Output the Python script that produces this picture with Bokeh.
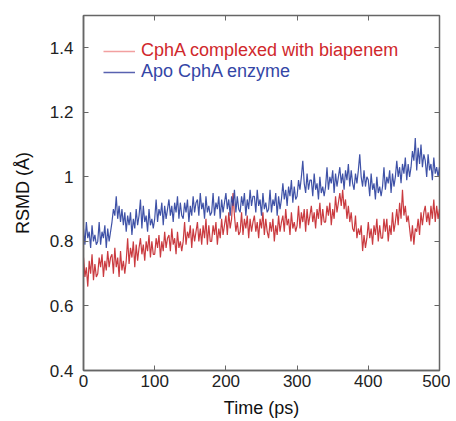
from bokeh.plotting import figure
from bokeh.models import Range1d, FixedTicker, LinearAxis, Legend, LegendItem
from bokeh.embed import file_html
from bokeh.resources import INLINE

t_step = 2
complex_rmsd = [
    0.75, 0.69, 0.72, 0.66, 0.74, 0.70, 0.76, 0.68, 0.73, 0.69,
    0.70, 0.75, 0.72, 0.76, 0.69, 0.74, 0.71, 0.77, 0.72, 0.75,
    0.76, 0.70, 0.78, 0.72, 0.75, 0.69, 0.77, 0.71, 0.74, 0.70,
    0.74, 0.81, 0.73, 0.78, 0.75, 0.80, 0.72, 0.79, 0.74, 0.78,
    0.81, 0.76, 0.79, 0.74, 0.80, 0.77, 0.82, 0.75, 0.80, 0.76,
    0.76, 0.81, 0.78, 0.82, 0.75, 0.80, 0.77, 0.83, 0.78, 0.81,
    0.82, 0.77, 0.84, 0.79, 0.81, 0.76, 0.83, 0.78, 0.80, 0.77,
    0.80, 0.86, 0.79, 0.83, 0.81, 0.85, 0.78, 0.84, 0.80, 0.83,
    0.86, 0.80, 0.84, 0.79, 0.85, 0.81, 0.87, 0.79, 0.85, 0.80,
    0.80, 0.85, 0.82, 0.86, 0.79, 0.84, 0.81, 0.87, 0.82, 0.85,
    0.88, 0.82, 0.89, 0.84, 0.87, 0.95, 0.88, 0.83, 0.86, 0.82,
    0.83, 0.89, 0.82, 0.87, 0.84, 0.88, 0.81, 0.87, 0.83, 0.86,
    0.88, 0.83, 0.86, 0.81, 0.87, 0.84, 0.89, 0.82, 0.87, 0.83,
    0.81, 0.86, 0.83, 0.87, 0.80, 0.85, 0.82, 0.88, 0.83, 0.86,
    0.88, 0.83, 0.90, 0.85, 0.87, 0.82, 0.89, 0.84, 0.86, 0.83,
    0.85, 0.91, 0.84, 0.89, 0.86, 0.90, 0.83, 0.90, 0.85, 0.88,
    0.91, 0.86, 0.89, 0.84, 0.90, 0.87, 0.92, 0.85, 0.90, 0.86,
    0.86, 0.91, 0.88, 0.92, 0.85, 0.90, 0.87, 0.94, 0.89, 0.92,
    0.95, 0.91, 0.96, 0.90, 0.93, 0.87, 0.91, 0.86, 0.89, 0.84,
    0.83, 0.88, 0.81, 0.84, 0.82, 0.85, 0.77, 0.82, 0.78, 0.81,
    0.86, 0.81, 0.84, 0.79, 0.85, 0.82, 0.87, 0.80, 0.85, 0.81,
    0.81, 0.87, 0.83, 0.87, 0.80, 0.85, 0.82, 0.89, 0.83, 0.86,
    0.90, 0.85, 0.92, 0.87, 0.96, 0.88, 0.91, 0.86, 0.88, 0.84,
    0.80, 0.85, 0.79, 0.84, 0.83, 0.87, 0.82, 0.89, 0.85, 0.89,
    0.91, 0.86, 0.89, 0.85, 0.91, 0.87, 0.93, 0.86, 0.91, 0.87,
    0.90,
]
apo_rmsd = [
    0.84, 0.79, 0.86, 0.81, 0.83, 0.78, 0.85, 0.80, 0.82, 0.79,
    0.80, 0.86, 0.79, 0.83, 0.81, 0.85, 0.78, 0.84, 0.80, 0.83,
    0.86, 0.90, 0.88, 0.94, 0.87, 0.91, 0.86, 0.90, 0.85, 0.89,
    0.83, 0.88, 0.85, 0.89, 0.82, 0.87, 0.84, 0.90, 0.85, 0.88,
    0.93, 0.84, 0.91, 0.86, 0.88, 0.83, 0.90, 0.85, 0.87, 0.84,
    0.87, 0.93, 0.86, 0.90, 0.88, 0.92, 0.85, 0.91, 0.87, 0.90,
    0.93, 0.88, 0.91, 0.86, 0.92, 0.89, 0.94, 0.87, 0.92, 0.88,
    0.87, 0.92, 0.89, 0.93, 0.86, 0.91, 0.88, 0.94, 0.89, 0.92,
    0.93, 0.88, 0.95, 0.90, 0.92, 0.87, 0.94, 0.89, 0.91, 0.88,
    0.89, 0.95, 0.88, 0.92, 0.90, 0.94, 0.87, 0.93, 0.89, 0.92,
    0.95, 0.90, 0.93, 0.88, 0.94, 0.91, 0.96, 0.89, 0.94, 0.90,
    0.89, 0.94, 0.91, 0.95, 0.88, 0.93, 0.90, 0.96, 0.91, 0.94,
    0.94, 0.89, 0.96, 0.91, 0.93, 0.88, 0.95, 0.90, 0.92, 0.89,
    0.90, 0.96, 0.89, 0.93, 0.91, 0.95, 0.88, 0.94, 0.90, 0.93,
    0.98, 0.93, 0.96, 0.91, 0.97, 0.94, 0.99, 0.92, 0.97, 0.93,
    0.94, 0.99, 0.96, 1.00, 1.05, 0.98, 0.95, 1.01, 0.96, 0.99,
    0.99, 0.94, 1.01, 0.96, 0.98, 0.93, 1.00, 0.95, 0.97, 0.94,
    0.97, 1.03, 0.96, 1.00, 0.98, 1.02, 0.95, 1.01, 0.97, 1.00,
    1.03, 0.98, 1.01, 0.96, 1.02, 0.99, 1.04, 0.97, 1.02, 0.98,
    0.96, 1.01, 0.98, 1.02, 1.07, 1.00, 0.97, 1.02, 0.97, 1.00,
    0.99, 0.94, 1.01, 0.96, 0.98, 0.93, 1.00, 0.95, 0.97, 0.94,
    0.97, 1.03, 0.96, 1.00, 0.98, 1.02, 0.95, 1.01, 0.97, 1.00,
    1.05, 1.00, 1.03, 0.98, 1.04, 1.01, 1.06, 0.99, 1.04, 1.00,
    1.03, 1.08, 1.05, 1.12, 1.02, 1.09, 1.04, 1.10, 1.03, 1.07,
    1.05, 1.00, 1.07, 1.02, 1.04, 0.99, 1.06, 1.01, 1.03, 1.00,
    1.03,
]
time_ps = [i * t_step for i in range(len(complex_rmsd))]
x_ticks = [0, 100, 200, 300, 400, 500]
y_ticks = [0.4, 0.6, 0.8, 1.0, 1.2, 1.4]
labels = ["CphA complexed with biapenem", "Apo CphA enzyme"]

FONT = "Liberation Sans"
AX = "#666666"

p = figure(width=450, height=421, output_backend="svg", toolbar_location=None,
           x_range=Range1d(0, 500), y_range=Range1d(0.4, 1.5),
           min_border_left=83, min_border_right=11, min_border_top=15, min_border_bottom=51)
p.grid.visible = False
p.background_fill_color = "white"
p.border_fill_color = "white"
p.outline_line_color = AX
p.outline_line_width = 1.5

p.line(time_ps, complex_rmsd, line_color="#c4262b", line_width=1.2, line_alpha=0.9)
p.line(time_ps, apo_rmsd, line_color="#2a3f9d", line_width=1.2, line_alpha=0.9)

# legend-only renderers (single point, draws nothing visible)
leg_c = p.line(time_ps[:1], complex_rmsd[:1], line_color="#f2a0a0", line_width=1.5)
leg_a = p.line(time_ps[:1], apo_rmsd[:1], line_color="#5862b0", line_width=1.5)

for ax in [p.xaxis[0], p.yaxis[0]]:
    ax.axis_line_color = AX
    ax.axis_line_width = 1.5
    ax.major_tick_line_color = AX
    ax.major_tick_in = 5
    ax.major_tick_out = 0
    ax.minor_tick_line_color = None
    ax.major_label_text_font = FONT
    ax.major_label_text_font_size = "17px"
    ax.major_label_text_color = "#222222"
    ax.axis_label_text_font = FONT
    ax.axis_label_text_font_size = "18px"
    ax.axis_label_text_font_style = "normal"
    ax.axis_label_text_color = "#111111"

p.xaxis[0].ticker = FixedTicker(ticks=x_ticks)
p.yaxis[0].ticker = FixedTicker(ticks=y_ticks)
p.yaxis[0].major_label_overrides = {1.0: "1"}
p.xaxis[0].axis_label = "Time (ps)"
p.yaxis[0].axis_label = "RSMD (Å)"
p.xaxis[0].major_label_standoff = 4
p.yaxis[0].major_label_standoff = 10
p.xaxis[0].axis_label_standoff = 8
p.yaxis[0].axis_label_standoff = 14

top = LinearAxis(ticker=FixedTicker(ticks=x_ticks))
right = LinearAxis(ticker=FixedTicker(ticks=y_ticks))
for ax in [top, right]:
    ax.axis_line_color = None
    ax.major_tick_line_color = AX
    ax.major_tick_in = 5
    ax.major_tick_out = 0
    ax.minor_tick_line_color = None
    ax.major_label_text_font_size = "0px"
    ax.major_label_standoff = 0
p.add_layout(top, "above")
p.add_layout(right, "right")

for item_label, rend, col, loc in [(labels[0], leg_c, "#d0282c", (20, 309)),
                                   (labels[1], leg_a, "#3446a6", (20, 288))]:
    lg = Legend(items=[LegendItem(label=item_label, renderers=[rend])], location=loc)
    lg.border_line_color = None
    lg.background_fill_alpha = 0
    lg.label_text_font = FONT
    lg.label_text_font_size = "18px"
    lg.label_text_color = col
    lg.glyph_width = 32
    lg.label_standoff = 6
    lg.padding = 0
    lg.margin = 0
    lg.spacing = 0
    p.add_layout(lg, "center")

open("out.html", "w").write(file_html(p, INLINE))
